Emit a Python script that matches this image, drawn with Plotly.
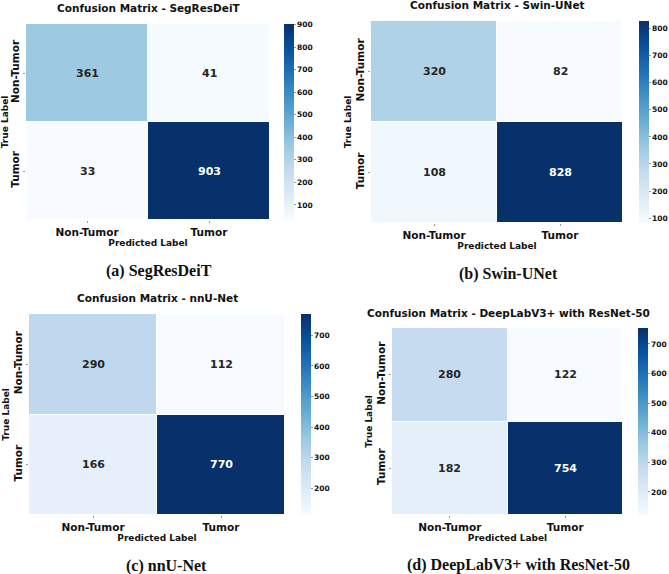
import plotly.graph_objects as go

W, H = 669, 574

labels = ["Non-Tumor", "Tumor"]
models = ["SegResDeiT", "Swin-UNet", "nnU-Net", "DeepLabV3+ with ResNet-50"]
captions = ["(a) SegResDeiT", "(b) Swin-UNet", "(c) nnU-Net", "(d) DeepLabV3+ with ResNet-50"]

cm_segresdeit = [[361, 41], [33, 903]]
cm_swinunet = [[320, 82], [108, 828]]
cm_nnunet = [[290, 112], [166, 770]]
cm_deeplab = [[280, 122], [182, 754]]
matrices = [cm_segresdeit, cm_swinunet, cm_nnunet, cm_deeplab]

cbar_ticks = [
    [100, 200, 300, 400, 500, 600, 700, 800, 900],
    [100, 200, 300, 400, 500, 600, 700, 800],
    [200, 300, 400, 500, 600, 700],
    [200, 300, 400, 500, 600, 700],
]

# pixel boxes: heatmap (x0, x1, y0, y1), colorbar x0, title pos, caption pos
boxes = [
    dict(hx=(26, 270), hy=(24, 220), cbx=284, ty=8, tx=148, cx=159, cy=271),
    dict(hx=(371, 623), hy=(21, 223), cbx=639, ty=5, tx=497, cx=508, cy=274),
    dict(hx=(29, 285), hy=(314, 515), cbx=301, ty=298, tx=157, cx=166, cy=566),
    dict(hx=(392, 623), hy=(328, 515), cbx=638, ty=313, tx=508, cx=518, cy=565),
]

blues = ["#f7fbff", "#deebf7", "#c6dbef", "#9ecae1", "#6baed6",
         "#4292c6", "#2171b5", "#08519c", "#08306b"]
scale = [[i / 8, c] for i, c in enumerate(blues)]

def px_x(v):
    return v / W

def px_y(v):
    return 1 - v / H

FONT = "DejaVu Sans"
fig = go.Figure()
annotations = []
bold_labels = [f"<b>{l}</b>" for l in labels]

for i, (cm, bx) in enumerate(zip(matrices, boxes)):
    n = "" if i == 0 else str(i + 1)
    zmin = min(min(r) for r in cm)
    zmax = max(max(r) for r in cm)
    mid = (zmin + zmax) / 2
    fig.add_trace(go.Heatmap(
        z=cm, x=labels, y=labels,
        xaxis="x" + n, yaxis="y" + n,
        coloraxis="coloraxis" + n,
        xgap=1, ygap=1,
        hoverinfo="skip",
    ))
    for r, yl in enumerate(labels):
        for c, xl in enumerate(labels):
            v = cm[r][c]
            annotations.append(dict(
                x=xl, y=yl, xref="x" + n, yref="y" + n,
                text=f"<b>{v}</b>", showarrow=False,
                font=dict(family=FONT, size=11,
                          color="#ffffff" if v > mid else "#262626"),
            ))
    hy0, hy1 = bx["hy"]
    hx0, hx1 = bx["hx"]
    fig.update_layout(**{
        "xaxis" + n: dict(
            domain=[px_x(hx0), px_x(hx1)], anchor="y" + n,
            tickmode="array", tickvals=labels, ticktext=bold_labels,
            tickfont=dict(family=FONT, size=10.5, color="#111"),
            ticks="outside", ticklen=2, tickcolor="#999", tickwidth=1,
            showgrid=False, zeroline=False, showline=False,
            title=dict(text="<b>Predicted Label</b>",
                       font=dict(family=FONT, size=9, color="#111"), standoff=0),
        ),
        "yaxis" + n: dict(
            domain=[px_y(hy1), px_y(hy0)], anchor="x" + n,
            autorange="reversed", tickangle=-90,
            tickmode="array", tickvals=labels, ticktext=bold_labels,
            tickfont=dict(family=FONT, size=10.5, color="#111"),
            ticks="outside", ticklen=2, tickcolor="#999", tickwidth=1,
            showgrid=False, zeroline=False, showline=False,
            title=dict(text="<b>True Label</b>",
                       font=dict(family=FONT, size=9, color="#111"), standoff=0),
        ),
        "coloraxis" + n: dict(
            colorscale=scale, cmin=zmin, cmax=zmax,
            colorbar=dict(
                x=px_x(bx["cbx"]), xanchor="left", xpad=0, ypad=0,
                y=px_y((hy0 + hy1) / 2), yanchor="middle",
                len=(hy1 - hy0) / H, lenmode="fraction",
                thickness=10, thicknessmode="pixels",
                outlinewidth=0,
                tickmode="array", tickvals=cbar_ticks[i],
                ticktext=[f"<b>{t}</b>" for t in cbar_ticks[i]],
                ticks="outside", ticklen=2, tickcolor="#999",
                tickfont=dict(family=FONT, size=7.5, color="#111"),
            ),
        ),
    })
    annotations.append(dict(
        x=px_x(bx["tx"]), y=px_y(bx["ty"]), xref="paper", yref="paper",
        text=f"<b>Confusion Matrix - {models[i]}</b>", showarrow=False,
        xanchor="center", yanchor="middle",
        font=dict(family=FONT, size=10.5, color="#111"),
    ))
    annotations.append(dict(
        x=px_x(bx["cx"]), y=px_y(bx["cy"]), xref="paper", yref="paper",
        text=f"<b>{captions[i]}</b>", showarrow=False,
        xanchor="center", yanchor="middle",
        font=dict(family="Liberation Serif", size=16, color="#111"),
    ))

fig.update_layout(
    width=W, height=H,
    margin=dict(l=0, r=0, t=0, b=0),
    paper_bgcolor="white", plot_bgcolor="white",
    annotations=annotations,
    showlegend=False,
)

fig.write_html("out.html")
